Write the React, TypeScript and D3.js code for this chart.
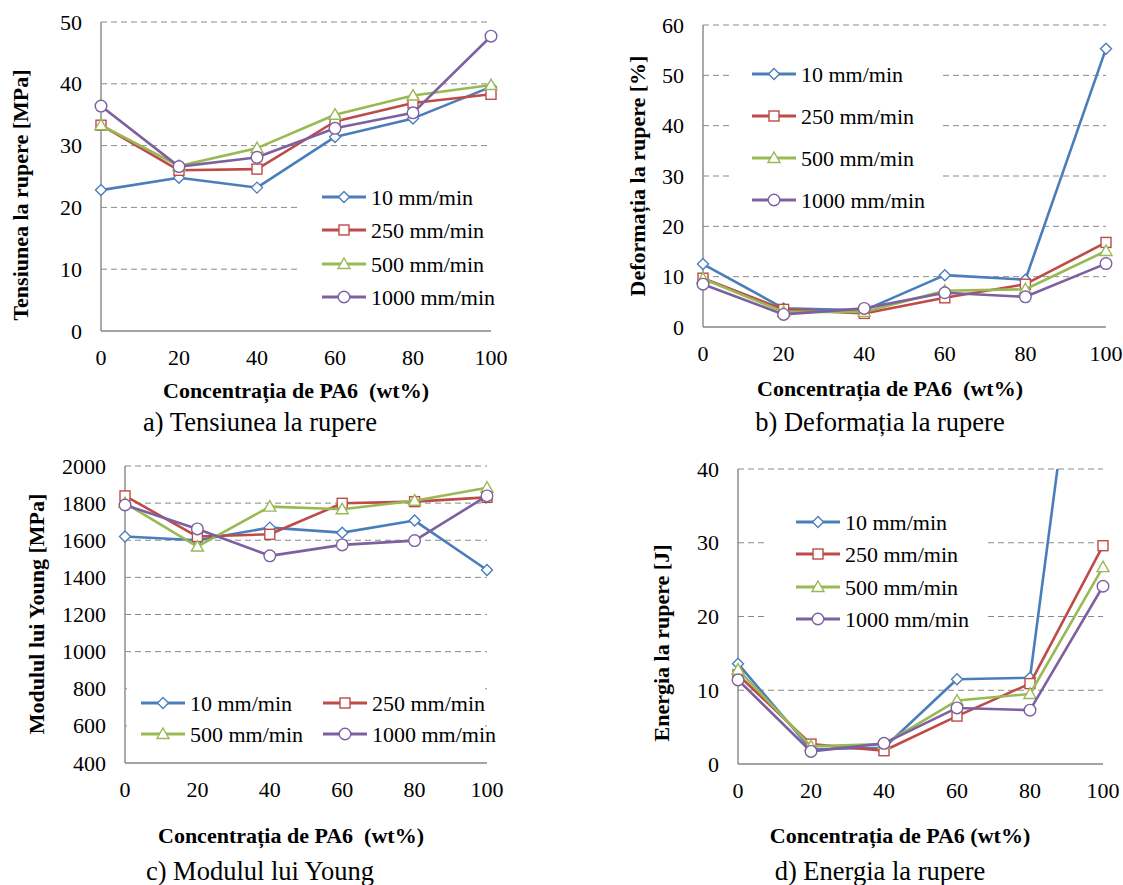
import React from "react";
import * as d3 from "d3";

// concentratia de PA6 (wt%)
const concentration = [0, 20, 40, 60, 80, 100];
const xTicks = [0, 20, 40, 60, 80, 100];
const speedLabels = ["10 mm/min", "250 mm/min", "500 mm/min", "1000 mm/min"];

// a) Tensiunea la rupere [MPa]
const stress10 = [22.8, 24.8, 23.2, 31.4, 34.4, 39.5];
const stress250 = [33.3, 26.0, 26.2, 33.9, 36.9, 38.3];
const stress500 = [33.3, 26.7, 29.6, 35.0, 38.1, 39.8];
const stress1000 = [36.4, 26.6, 28.1, 32.8, 35.3, 47.7];
const stressTicks = [0, 10, 20, 30, 40, 50];

// b) Deformatia la rupere [%]
const strain10 = [12.5, 3.7, 3.3, 10.3, 9.4, 55.3];
const strain250 = [9.7, 3.5, 2.7, 5.8, 8.5, 16.8];
const strain500 = [9.6, 3.0, 3.0, 7.2, 7.5, 15.1];
const strain1000 = [8.5, 2.5, 3.7, 6.8, 6.0, 12.6];
const strainTicks = [0, 10, 20, 30, 40, 50, 60];

// c) Modulul lui Young [MPa]
const modulus10 = [1620, 1600, 1668, 1641, 1706, 1440];
const modulus250 = [1839, 1620, 1632, 1799, 1808, 1831];
const modulus500 = [1800, 1566, 1781, 1767, 1813, 1883];
const modulus1000 = [1790, 1661, 1516, 1575, 1598, 1839];
const modulusTicks = [400, 600, 800, 1000, 1200, 1400, 1600, 1800, 2000];

// d) Energia la rupere [J]
const energy10 = [13.6, 2.0, 2.2, 11.5, 11.7, 87];
const energy250 = [12.1, 2.7, 1.8, 6.5, 10.9, 29.6];
const energy500 = [12.8, 2.4, 2.7, 8.6, 9.5, 26.7];
const energy1000 = [11.4, 1.7, 2.8, 7.6, 7.3, 24.1];
const energyTicks = [0, 10, 20, 30, 40];

const colors = ["#4a7ebb", "#be4b48", "#98b954", "#7d60a0"];
const shapes = ["diamond", "square", "triangle", "circle"];

const FONT = "'Liberation Serif', 'Times New Roman', serif";
const GRID = "#8a8a8a";

const Marker = ({ shape, x, y, color }) => {
  const common = { fill: "#fff", stroke: color, strokeWidth: 1.4 };
  if (shape === "diamond")
    return <path d={`M${x},${y - 5.5}L${x + 5.5},${y}L${x},${y + 5.5}L${x - 5.5},${y}Z`} {...common} />;
  if (shape === "square") return <rect x={x - 5} y={y - 5} width={10} height={10} {...common} />;
  if (shape === "triangle")
    return <path d={`M${x},${y - 6}L${x + 6},${y + 4.5}L${x - 6},${y + 4.5}Z`} {...common} />;
  return <circle cx={x} cy={y} r={5.8} {...common} />;
};

const Panel = ({ id, frame, yDomain, yTicks, series, yTitle, xTitle, xTitleY, caption, captionY, yTitlePos, legend }) => {
  const x = d3.scaleLinear().domain([0, 100]).range([frame.left, frame.right]);
  const y = d3.scaleLinear().domain(yDomain).range([frame.bottom, frame.top]);
  const line = d3
    .line()
    .x((d, i) => x(concentration[i]))
    .y((d) => y(d));

  return (
    <g>
      <defs>
        <clipPath id={id}>
          <rect x={frame.left - 12} y={frame.top} width={frame.right - frame.left + 24} height={frame.bottom - frame.top + 12} />
        </clipPath>
      </defs>
      {yTicks.slice(1).map((t) => (
        <line key={t} x1={frame.left} x2={frame.right} y1={y(t)} y2={y(t)} stroke={GRID} strokeWidth={1} strokeDasharray="6 4" />
      ))}
      <line x1={frame.left} x2={frame.left} y1={frame.top} y2={frame.bottom} stroke="#868686" strokeWidth={1.4} />
      <line x1={frame.left} x2={frame.right} y1={frame.bottom} y2={frame.bottom} stroke="#868686" strokeWidth={1.4} />
      {yTicks.map((t) => (
        <text key={t} x={frame.left - 19} y={y(t)} textAnchor="end" dominantBaseline="central" fontSize={22} fontFamily={FONT}>
          {t}
        </text>
      ))}
      {xTicks.map((t) => (
        <text key={t} x={x(t)} y={frame.bottom + 26} textAnchor="middle" dominantBaseline="central" fontSize={22} fontFamily={FONT}>
          {t}
        </text>
      ))}
      <g clipPath={`url(#${id})`}>
        {series.map((s, k) => (
          <g key={k}>
            <path d={line(s)} fill="none" stroke={colors[k]} strokeWidth={2.6} strokeLinejoin="round" />
            {s.map((v, i) => (
              <Marker key={i} shape={shapes[k]} x={x(concentration[i])} y={y(v)} color={colors[k]} />
            ))}
          </g>
        ))}
      </g>
      <rect x={legend.box[0]} y={legend.box[1]} width={legend.box[2]} height={legend.box[3]} fill="#fff" />
      {legend.items.map((it, k) => (
        <g key={k}>
          <line x1={it.x - 22} x2={it.x + 22} y1={it.y} y2={it.y} stroke={colors[k]} strokeWidth={2.8} />
          <Marker shape={shapes[k]} x={it.x} y={it.y} color={colors[k]} />
          <text x={it.x + 27} y={it.y} dominantBaseline="central" fontSize={22} fontFamily={FONT}>
            {speedLabels[k]}
          </text>
        </g>
      ))}
      <text
        transform={`translate(${yTitlePos[0]},${yTitlePos[1]}) rotate(-90)`}
        textAnchor="middle"
        dominantBaseline="central"
        fontSize={22}
        fontWeight="bold"
        fontFamily={FONT}
      >
        {yTitle}
      </text>
      <text x={xTitle[1]} y={xTitleY} textAnchor="middle" dominantBaseline="central" fontSize={22} fontWeight="bold" fontFamily={FONT} style={{ whiteSpace: "pre" }}>
        {xTitle[0]}
      </text>
      <text x={caption[1]} y={captionY} textAnchor="middle" fontSize={26.5} fontFamily={FONT}>
        {caption[0]}
      </text>
    </g>
  );
};

const rows = (xs, ys) => ys.map((yy, i) => ({ x: Array.isArray(xs) ? xs[i] : xs, y: yy }));

const App = () => {
  return (
    <svg width={1123} height={885} style={{ position: "absolute", left: 0, top: 0, background: "#fff" }}>
      <Panel
        id="clipA"
        frame={{ left: 101, right: 491, top: 22, bottom: 331 }}
        yDomain={[0, 50]}
        yTicks={stressTicks}
        series={[stress10, stress250, stress500, stress1000]}
        yTitle="Tensiunea la rupere [MPa]"
        yTitlePos={[20, 195]}
        xTitle={["Concentrația de PA6  (wt%)", 296]}
        xTitleY={390}
        caption={["a) Tensiunea la rupere", 260]}
        captionY={431}
        legend={{ box: [300, 180, 200, 135], items: rows(344, [197, 230, 264, 297]) }}
      />
      <Panel
        id="clipB"
        frame={{ left: 703, right: 1106, top: 25, bottom: 327 }}
        yDomain={[0, 60]}
        yTicks={strainTicks}
        series={[strain10, strain250, strain500, strain1000]}
        yTitle="Deformația la rupere [%]"
        yTitlePos={[637, 176]}
        xTitle={["Concentrația de PA6  (wt%)", 890]}
        xTitleY={388}
        caption={["b) Deformația la rupere", 880]}
        captionY={431}
        legend={{ box: [733, 55, 208, 160], items: rows(774, [74, 116, 158, 200]) }}
      />
      <Panel
        id="clipC"
        frame={{ left: 125, right: 487, top: 466, bottom: 763 }}
        yDomain={[400, 2000]}
        yTicks={modulusTicks}
        series={[modulus10, modulus250, modulus500, modulus1000]}
        yTitle="Modulul lui Young [MPa]"
        yTitlePos={[36, 614]}
        xTitle={["Concentrația de PA6  (wt%)", 291]}
        xTitleY={835}
        caption={["c) Modulul lui Young", 260]}
        captionY={880}
        legend={{ box: [127, 680, 358, 70], items: rows([163, 345, 163, 345], [703, 703, 734, 734]) }}
      />
      <Panel
        id="clipD"
        frame={{ left: 738, right: 1103, top: 469, bottom: 764 }}
        yDomain={[0, 40]}
        yTicks={energyTicks}
        series={[energy10, energy250, energy500, energy1000]}
        yTitle="Energia la rupere [J]"
        yTitlePos={[661, 643]}
        xTitle={["Concentrația de PA6 (wt%)", 900]}
        xTitleY={835}
        caption={["d) Energia la rupere", 880]}
        captionY={880}
        legend={{ box: [767, 500, 220, 140], items: rows(818, [522, 554, 587, 619]) }}
      />
    </svg>
  );
};

export default App;
